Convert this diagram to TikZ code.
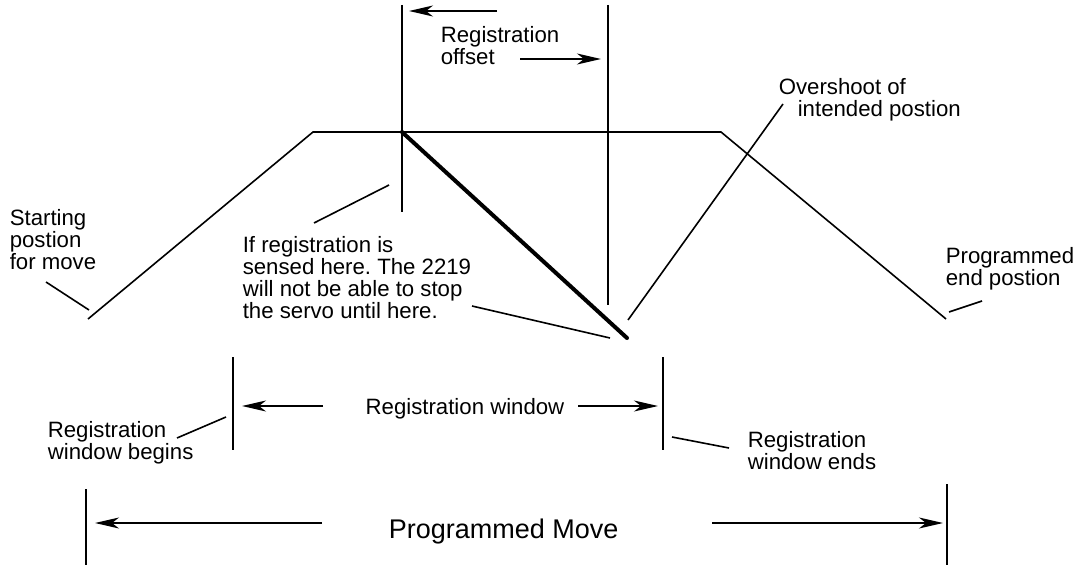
\documentclass[tikz,border=0pt]{standalone}
\usepackage{fontspec}
\setmainfont{Liberation Sans}
\frenchspacing
\usetikzlibrary{arrows.meta,positioning,calc}
\tikzset{
	note/.style = {inner sep=0pt, align=left, font=\fontsize{11.1}{11}\selectfont},
	title/.style = {inner sep=0pt, font=\fontsize{13.5}{14}\selectfont},
	coord/.style = {coordinate},
	dim/.style = {-{Stealth[length=12pt,width=5.5pt,inset=3.5pt]}},
	move/.style = {line width=2pt, line cap=round}
}

\begin{document}
\begin{tikzpicture}[x=0.5pt, y=-0.5pt, line width=0.8pt]
		\useasboundingbox (0,0) rectangle (1080,567);
		% motion profile
		\node [coord] (start) at (88,319) {};
		\node [coord] (accel) at (313,132) {};
		\node [coord] (decel) at (721,132) {};
		\node [coord] (finish) at (946,319) {};
		\draw (start) -- (accel) -- (decel) -- (finish);
		% registration sensed and stop
		\node [coord] (sensetop) at (402,5) {};
		\node [coord] (sensebot) at (402,212) {};
		\node [coord] (sensed) at (402,132) {};
		\node [coord] (stopped) at (627,338) {};
		\node [coord] (offtop) at (608,5) {};
		\node [coord] (offbot) at (608,305) {};
		\draw (sensetop) -- (sensebot);
		\draw (offtop) -- (offbot);
		\draw [move] (sensed) -- (stopped);
		% registration offset
		\node [note, anchor=base west] (offset) at (440,65) {Registration\\offset};
		\node [coord] (offarr1) at (497,11) {};
		\node [coord] (offarr2) at (409,11) {};
		\node [coord] (offarr3) at (520,59) {};
		\node [coord] (offarr4) at (601,59) {};
		\draw [dim] (offarr1) -- (offarr2);
		\draw [dim] (offarr3) -- (offarr4);
		% overshoot
		\node [note, anchor=base west] (overshoot) at (778,117) {Overshoot of\\\hspace*{9.5pt}intended postion};
		\node [coord] (over1) at (783,104) {};
		\node [coord] (over2) at (628,320) {};
		\draw (over1) -- (over2);
		% sensed here
		\node [note, anchor=base west] (sense) at (242,318) {If registration is\\sensed here. The 2219\\will not be able to stop\\the servo until here.};
		\node [coord] (sense1) at (314,223) {};
		\node [coord] (sense2) at (389,185) {};
		\node [coord] (sense3) at (472,306) {};
		\node [coord] (sense4) at (610,338) {};
		\draw (sense1) -- (sense2);
		\draw (sense3) -- (sense4);
		% start and end
		\node [note, anchor=base west] (startpos) at (9,269) {Starting\\postion\\for move};
		\node [coord] (start1) at (46,282) {};
		\node [coord] (start2) at (89,310) {};
		\draw (start1) -- (start2);
		\node [note, anchor=base west] (endpos) at (945,285) {Programmed\\end postion};
		\node [coord] (end1) at (949,312) {};
		\node [coord] (end2) at (982,301) {};
		\draw (end1) -- (end2);
		% registration window
		\node [coord] (winl1) at (233,357) {};
		\node [coord] (winl2) at (233,450) {};
		\node [coord] (winr1) at (663,357) {};
		\node [coord] (winr2) at (663,450) {};
		\draw (winl1) -- (winl2);
		\draw (winr1) -- (winr2);
		\node [note, anchor=base] (window) at (465,414) {Registration window};
		\node [coord] (winarr1) at (323,406) {};
		\node [coord] (winarr2) at (242,406) {};
		\node [coord] (winarr3) at (578,406) {};
		\node [coord] (winarr4) at (658,406) {};
		\draw [dim] (winarr1) -- (winarr2);
		\draw [dim] (winarr3) -- (winarr4);
		\node [note, anchor=base west] (begins) at (47,459) {Registration\\window begins};
		\node [coord] (begin1) at (177,438) {};
		\node [coord] (begin2) at (226,417) {};
		\draw (begin1) -- (begin2);
		\node [note, anchor=base west] (ends) at (747,469) {Registration\\window ends};
		\node [coord] (ends1) at (672,437) {};
		\node [coord] (ends2) at (729,448) {};
		\draw (ends1) -- (ends2);
		% programmed move
		\node [coord] (movel1) at (86,489) {};
		\node [coord] (movel2) at (86,565) {};
		\node [coord] (mover1) at (947,484) {};
		\node [coord] (mover2) at (947,565) {};
		\draw (movel1) -- (movel2);
		\draw (mover1) -- (mover2);
		\node [title, anchor=base west] (progmove) at (388,538) {Programmed Move};
		\node [coord] (movearr1) at (322,523) {};
		\node [coord] (movearr2) at (95,523) {};
		\node [coord] (movearr3) at (712,523) {};
		\node [coord] (movearr4) at (943,523) {};
		\draw [dim] (movearr1) -- (movearr2);
		\draw [dim] (movearr3) -- (movearr4);
\end{tikzpicture}
\end{document}
